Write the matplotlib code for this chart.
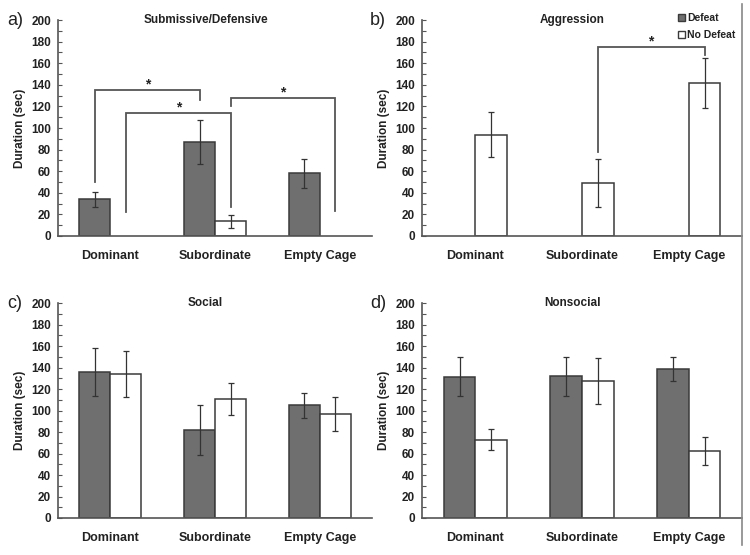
import numpy as np
import matplotlib
matplotlib.use("Agg")
import matplotlib.pyplot as plt
from matplotlib.patches import Patch
from matplotlib.lines import Line2D

plt.rcParams["font.family"] = ["Liberation Sans", "DejaVu Sans"]

categories = ["Dominant", "Subordinate", "Empty Cage"]
nan = np.nan

# a) submissive/defensive
sub_defeat = [34, 87, 58]
sub_defeat_err = [7, 20, 13.5]
sub_nodefeat = [nan, 13.5, nan]
sub_nodefeat_err = [nan, 6, nan]

# b) aggression
agg_defeat = [nan, nan, nan]
agg_defeat_err = [nan, nan, nan]
agg_nodefeat = [94, 49, 142]
agg_nodefeat_err = [21, 22, 23]

# c) social
soc_defeat = [136, 82, 105]
soc_defeat_err = [22.5, 23, 11.5]
soc_nodefeat = [134, 111, 97]
soc_nodefeat_err = [21.5, 15, 16]

# d) nonsocial
non_defeat = [131.5, 132, 138.5]
non_defeat_err = [18, 18, 11]
non_nodefeat = [73, 127.5, 62]
non_nodefeat_err = [10, 21.5, 13]

# significance brackets: (cat1, group1, y_start, cat2, group2, y_end, y_top)
sub_brackets = [(0, 0, 50, 1, 0, 126, 135),
                (0, 1, 22, 1, 1, 27, 114),
                (1, 1, 120, 2, 1, 23, 128)]
agg_brackets = [(1, 1, 78, 2, 1, 167.5, 175)]

BAR_W = 0.296
DEFEAT_C = "#6f6f6f"
EDGE_C = "#3a3a3a"
LINE_C = "#555555"

fig = plt.figure(figsize=(7.5, 5.55), dpi=100)

panels = [
    ("a)", "Submissive/Defensive", [0.0773, 0.5748, 0.419, 0.389],
     sub_defeat, sub_defeat_err, sub_nodefeat, sub_nodefeat_err, sub_brackets),
    ("b)", "Aggression", [0.5627, 0.5748, 0.4267, 0.389],
     agg_defeat, agg_defeat_err, agg_nodefeat, agg_nodefeat_err, agg_brackets),
    ("c)", "Social", [0.0773, 0.0667, 0.419, 0.387],
     soc_defeat, soc_defeat_err, soc_nodefeat, soc_nodefeat_err, []),
    ("d)", "Nonsocial", [0.5627, 0.0667, 0.4267, 0.387],
     non_defeat, non_defeat_err, non_nodefeat, non_nodefeat_err, []),
]


def bar_x(cat, group):
    return cat + 0.5 + (-0.5 if group == 0 else 0.5) * BAR_W


for letter, title, rect, d, de, nd, nde, brackets in panels:
    ax = fig.add_axes(rect)
    x = np.arange(len(categories)) + 0.5
    for vals, errs, grp, fc in [(d, de, 0, DEFEAT_C), (nd, nde, 1, "white")]:
        vals = np.array(vals, dtype=float)
        errs = np.array(errs, dtype=float)
        m = ~np.isnan(vals)
        if not m.any():
            continue
        xs = np.array([bar_x(i, grp) for i in range(len(categories))])[m]
        ax.bar(xs, vals[m], width=BAR_W, color=fc, edgecolor=EDGE_C,
               linewidth=1.1, zorder=2)
        ax.errorbar(xs, vals[m], yerr=errs[m], fmt="none", ecolor="#333333",
                    elinewidth=0.9, capsize=2, capthick=0.9, zorder=3)

    for c1, g1, y1, c2, g2, y2, top in brackets:
        x1, x2 = bar_x(c1, g1), bar_x(c2, g2)
        ax.plot([x1, x1, x2, x2], [y1, top, top, y2], color=LINE_C, lw=1.3,
                zorder=4, solid_joinstyle="miter")
        ax.text((x1 + x2) / 2, top + 5, "*", ha="center", va="center",
                fontsize=10, fontweight="bold", color="#222222")

    ax.set_xlim(0, 3)
    ax.set_ylim(0, 200)
    ax.set_xticks(x)
    ax.set_xticklabels(categories, fontsize=9, fontweight="bold", color="#222222")
    ax.set_yticks(np.arange(0, 201, 20))
    ax.set_yticks(np.arange(0, 201, 10), minor=True)
    ax.tick_params(axis="y", which="both", direction="in", length=3,
                   width=0.8, color="#555555", labelsize=8.5, pad=5)
    ax.tick_params(axis="x", length=0, pad=10)
    for lab in ax.get_yticklabels():
        lab.set_fontweight("bold")
        lab.set_color("#222222")
    ax.set_ylabel("Duration (sec)", fontsize=8.5, fontweight="bold",
                  color="#222222", labelpad=4)
    for side in ["top", "right"]:
        ax.spines[side].set_visible(False)
    for side in ["left", "bottom"]:
        ax.spines[side].set_color("#555555")
        ax.spines[side].set_linewidth(1.2)

    ax.text(0.47, 1.0, title, transform=ax.transAxes, ha="center", va="center",
            fontsize=8.5, fontweight="bold", color="#222222")

    lx = 0.02 if letter in ("a)", "c)") else 0.504
    ly = rect[1] + rect[3]
    fig.text(lx, ly, letter, ha="center", va="center", fontsize=13,
             color="#222222")

    if letter == "b)":
        handles = [Patch(facecolor=DEFEAT_C, edgecolor=EDGE_C, label="Defeat"),
                   Patch(facecolor="white", edgecolor=EDGE_C, label="No Defeat")]
        leg = ax.legend(handles=handles, loc="upper right",
                        bbox_to_anchor=(1.0, 1.06), frameon=False,
                        fontsize=7.5, handlelength=0.7, handleheight=0.7,
                        handletextpad=0.2, labelspacing=0.65, borderpad=0.1)
        for t in leg.get_texts():
            t.set_fontweight("bold")
            t.set_color("#222222")

fig.add_artist(Line2D([0.989, 0.989], [0.018, 0.992], color="#888888", lw=1.2))

fig.savefig("out.png", dpi=100)
